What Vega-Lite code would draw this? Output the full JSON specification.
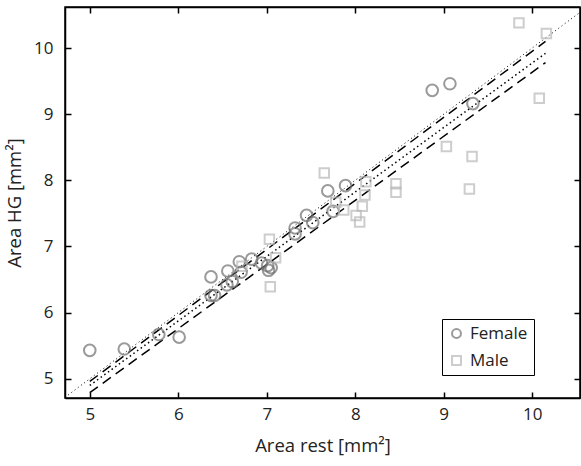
{
  "$schema": "https://vega.github.io/schema/vega-lite/v6.json",
  "width": 515,
  "height": 391,
  "autosize": {"type": "none"},
  "padding": {"left": 65, "top": 7, "right": 1, "bottom": 68},
  "background": "white",
  "config": {
    "font": "Open Sans",
    "view": {"stroke": "black", "strokeWidth": 1.5},
    "axis": {
      "domainColor": "black",
      "domainWidth": 1.5,
      "tickColor": "black",
      "tickWidth": 1.5,
      "tickSize": -6,
      "grid": false,
      "labelFont": "Open Sans",
      "labelFontSize": 17,
      "labelColor": "#222222",
      "titleFont": "Open Sans",
      "titleFontSize": 18.5,
      "titleFontWeight": "normal",
      "titleColor": "#222222"
    }
  },
  "datasets": {
    "points": [
      {"sex": "Female", "rest": 5.00, "hg": 5.43},
      {"sex": "Female", "rest": 5.39, "hg": 5.45},
      {"sex": "Female", "rest": 5.78, "hg": 5.67},
      {"sex": "Female", "rest": 6.01, "hg": 5.63},
      {"sex": "Female", "rest": 6.37, "hg": 6.54},
      {"sex": "Female", "rest": 6.37, "hg": 6.26},
      {"sex": "Female", "rest": 6.41, "hg": 6.26},
      {"sex": "Female", "rest": 6.56, "hg": 6.63},
      {"sex": "Female", "rest": 6.55, "hg": 6.42},
      {"sex": "Female", "rest": 6.61, "hg": 6.47},
      {"sex": "Female", "rest": 6.69, "hg": 6.77},
      {"sex": "Female", "rest": 6.71, "hg": 6.61},
      {"sex": "Female", "rest": 6.83, "hg": 6.81},
      {"sex": "Female", "rest": 6.94, "hg": 6.75},
      {"sex": "Female", "rest": 7.01, "hg": 6.71},
      {"sex": "Female", "rest": 7.05, "hg": 6.68},
      {"sex": "Female", "rest": 7.02, "hg": 6.64},
      {"sex": "Female", "rest": 7.32, "hg": 7.28},
      {"sex": "Female", "rest": 7.32, "hg": 7.19},
      {"sex": "Female", "rest": 7.45, "hg": 7.47},
      {"sex": "Female", "rest": 7.52, "hg": 7.36},
      {"sex": "Female", "rest": 7.69, "hg": 7.84},
      {"sex": "Female", "rest": 7.75, "hg": 7.53},
      {"sex": "Female", "rest": 7.89, "hg": 7.92},
      {"sex": "Female", "rest": 8.87, "hg": 9.36},
      {"sex": "Female", "rest": 9.07, "hg": 9.46},
      {"sex": "Female", "rest": 9.33, "hg": 9.16},
      {"sex": "Male", "rest": 7.03, "hg": 7.11},
      {"sex": "Male", "rest": 7.10, "hg": 6.83},
      {"sex": "Male", "rest": 7.04, "hg": 6.39},
      {"sex": "Male", "rest": 6.72, "hg": 6.70},
      {"sex": "Male", "rest": 7.65, "hg": 8.11},
      {"sex": "Male", "rest": 7.78, "hg": 7.67},
      {"sex": "Male", "rest": 7.87, "hg": 7.55},
      {"sex": "Male", "rest": 8.12, "hg": 7.98},
      {"sex": "Male", "rest": 8.11, "hg": 7.78},
      {"sex": "Male", "rest": 8.08, "hg": 7.61},
      {"sex": "Male", "rest": 8.01, "hg": 7.47},
      {"sex": "Male", "rest": 8.05, "hg": 7.37},
      {"sex": "Male", "rest": 8.46, "hg": 7.95},
      {"sex": "Male", "rest": 8.46, "hg": 7.82},
      {"sex": "Male", "rest": 9.03, "hg": 8.51},
      {"sex": "Male", "rest": 9.32, "hg": 8.36},
      {"sex": "Male", "rest": 9.29, "hg": 7.87},
      {"sex": "Male", "rest": 9.85, "hg": 10.38},
      {"sex": "Male", "rest": 10.16, "hg": 10.22},
      {"sex": "Male", "rest": 10.08, "hg": 9.24}
    ],
    "lines": [
      {"id": "identity", "rest": 4.72, "hg": 4.72},
      {"id": "identity", "rest": 10.54, "hg": 10.54},
      {"id": "upper", "rest": 5.0, "hg": 4.96},
      {"id": "upper", "rest": 10.15, "hg": 10.10},
      {"id": "middle", "rest": 5.0, "hg": 4.90},
      {"id": "middle", "rest": 10.15, "hg": 9.92},
      {"id": "lower", "rest": 5.0, "hg": 4.79},
      {"id": "lower", "rest": 10.15, "hg": 9.78}
    ]
  },
  "layer": [
    {
      "data": {"name": "lines"},
      "transform": [{"filter": "datum.id === 'identity'"}],
      "mark": {"type": "line", "color": "black", "strokeWidth": 1, "strokeDash": [1, 3], "clip": true},
      "encoding": {
        "x": {"field": "rest", "type": "quantitative", "scale": {"domain": [4.72, 10.54], "nice": false, "zero": false}, "axis": null},
        "y": {"field": "hg", "type": "quantitative", "scale": {"domain": [4.71, 10.62], "nice": false, "zero": false}, "axis": null}
      }
    },
    {
      "data": {"name": "lines"},
      "transform": [{"filter": "datum.id === 'upper' || datum.id === 'lower'"}],
      "mark": {"type": "line", "color": "black", "strokeWidth": 1.5, "strokeDash": [10, 6], "clip": true},
      "encoding": {
        "x": {"field": "rest", "type": "quantitative", "axis": null},
        "y": {"field": "hg", "type": "quantitative", "axis": null},
        "detail": {"field": "id"}
      }
    },
    {
      "data": {"name": "lines"},
      "transform": [{"filter": "datum.id === 'middle'"}],
      "mark": {"type": "line", "color": "black", "strokeWidth": 1.5, "strokeDash": [1.5, 3], "clip": true},
      "encoding": {
        "x": {"field": "rest", "type": "quantitative", "axis": null},
        "y": {"field": "hg", "type": "quantitative", "axis": null}
      }
    },
    {
      "data": {"name": "points"},
      "mark": {"type": "point", "filled": false, "strokeWidth": 2},
      "encoding": {
        "x": {"field": "rest", "type": "quantitative", "title": "Area rest [mm²]",
          "axis": {"orient": "bottom", "values": [5, 6, 7, 8, 9, 10], "labelPadding": 14, "titlePadding": 14}},
        "y": {"field": "hg", "type": "quantitative", "title": "Area HG [mm²]",
          "axis": {"orient": "left", "values": [5, 6, 7, 8, 9, 10], "labelPadding": 18, "titlePadding": 9}},
        "stroke": {"field": "sex", "type": "nominal", "title": null,
          "scale": {"domain": ["Female", "Male"], "range": ["#707070", "#b8b8b8"]},
          "legend": {"orient": "none", "legendX": 377, "legendY": 312, "strokeColor": "black", "padding": 6,
            "labelFontSize": 17, "labelColor": "#222222", "labelOffset": 5, "symbolSize": 80, "symbolStrokeWidth": 2, "rowPadding": 9, "fillColor": "white"}},
        "shape": {"field": "sex", "type": "nominal", "title": null,
          "scale": {"domain": ["Female", "Male"], "range": ["circle", "square"]}},
        "size": {"condition": {"test": "datum.sex === 'Female'", "value": 135}, "value": 90}
      }
    },
    {
      "data": {"name": "points"},
      "mark": {"type": "point", "opacity": 0},
      "encoding": {
        "x": {"field": "rest", "type": "quantitative",
          "axis": {"orient": "top", "values": [5, 6, 7, 8, 9, 10], "labels": false, "title": null}},
        "y": {"field": "hg", "type": "quantitative",
          "axis": {"orient": "right", "values": [5, 6, 7, 8, 9, 10], "labels": false, "title": null}}
      }
    }
  ],
  "resolve": {"axis": {"x": "independent", "y": "independent"}}
}
